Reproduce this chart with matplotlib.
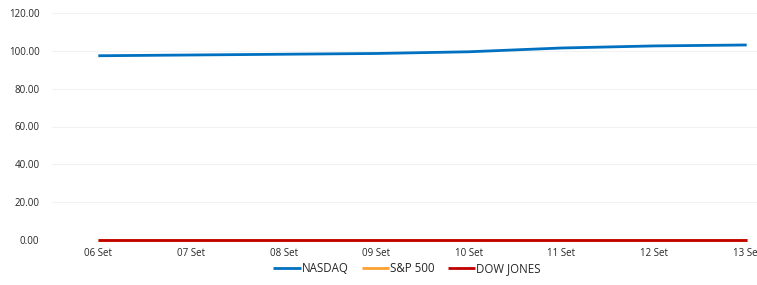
import numpy as np
import matplotlib
matplotlib.use("Agg")
import matplotlib.pyplot as plt

dates = ["06 Set", "07 Set", "08 Set", "09 Set", "10 Set", "11 Set", "12 Set", "13 Set"]
nasdaq = [97.4, 97.8, 98.2, 98.6, 99.5, 101.5, 102.6, 103.1]
sp500 = [0.0, 0.0, 0.0, 0.0, 0.0, 0.0, 0.0, 0.0]
dow = [0.0, 0.0, 0.0, 0.0, 0.0, 0.0, 0.0, 0.0]

C_NQ = "#0070C0"
C_SP = "#FFA033"
C_DJ = "#C00000"
TXT = "#262626"

plt.rcParams.update({"font.family": ["Open Sans", "DejaVu Sans"], "font.size": 7})

W, H = 757, 285
fig = plt.figure(figsize=(W / 100, H / 100), dpi=100)
left, right, top, bottom = 52, 793, 13, 240
ax = fig.add_axes([left / W, 1 - bottom / H, (right - left) / W, (bottom - top) / H])

x = np.arange(len(dates))
for vals, color, label in [(nasdaq, C_NQ, "NASDAQ"), (sp500, C_SP, "S&P 500"),
                           (dow, C_DJ, "DOW JONES")]:
    ax.plot(x, vals, color=color, lw=2.0, label=label, solid_capstyle="butt",
            clip_on=False, zorder=3)

ax.set_xlim(-0.5, len(dates) - 0.5)
ax.set_ylim(0, 120)
ax.set_yticks(np.arange(0, 121, 20))
ax.set_yticklabels([f"{v:.2f}" for v in np.arange(0, 121, 20)])
ax.set_xticks(x)
ax.set_xticklabels(dates)
ax.tick_params(length=0, colors=TXT, labelsize=7)
ax.tick_params(axis="y", pad=9)
ax.tick_params(axis="x", pad=6)
ax.grid(axis="y", color="#f2f2f2", lw=0.8)
ax.set_axisbelow(True)
for s in ax.spines.values():
    s.set_visible(False)

fig.legend(loc="center", bbox_to_anchor=(407 / W, 1 - 269 / H), ncol=3,
           frameon=False, handlelength=2.4, handletextpad=0.1, columnspacing=1.1,
           fontsize=8.3, labelcolor=TXT)

fig.savefig("out.png", dpi=100)
